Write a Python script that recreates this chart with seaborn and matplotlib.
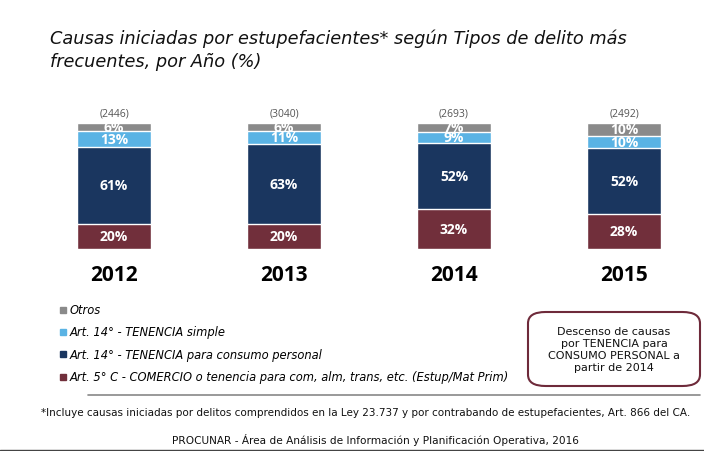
import numpy as np
import pandas as pd
import matplotlib.pyplot as plt
import seaborn as sns
from matplotlib.patches import FancyBboxPatch, Rectangle
from matplotlib.lines import Line2D

# data
years = ["2012", "2013", "2014", "2015"]
totals = ["(2446)", "(3040)", "(2693)", "(2492)"]
comercio = [20, 20, 32, 28]
consumo = [61, 63, 52, 52]
simple = [13, 11, 9, 10]
otros = [6, 6, 7, 10]

series_names = [
    "Art. 5° C - COMERCIO o tenencia para com, alm, trans, etc. (Estup/Mat Prim)",
    "Art. 14° - TENENCIA para consumo personal",
    "Art. 14° - TENENCIA simple",
    "Otros",
]
colors = ["#712f3b", "#1a365f", "#5ab3e4", "#8a8a8a"]

sns.set_style("white")
plt.rcParams['font.family'] = ['DejaVu Sans']

fig = plt.figure(figsize=(7.04, 4.52), dpi=100)
ax = fig.add_axes([12 / 704, 202 / 452, 680 / 704, 126 / 452])

df = pd.DataFrame({"year": years, "comercio": comercio, "consumo": consumo,
                   "simple": simple, "otros": otros})
cols = ["comercio", "consumo", "simple", "otros"]
cum = df[cols].cumsum(axis=1)

# stacked bars: draw cumulative heights from the top down
for col, c in reversed(list(zip(cols, colors))):
    sns.barplot(x=df["year"], y=cum[col], color=c, width=0.44,
                edgecolor="white", linewidth=1.0, ax=ax, saturation=1)

ax.set_xlim(-0.6, 3.4)
ax.set_ylim(0, 100)
ax.axis("off")

# segment labels
for i in range(len(years)):
    bottom = 0
    for col in cols:
        v = df[col][i]
        ax.text(i, bottom + v / 2, f"{v}%", ha="center", va="center",
                color="white", fontsize=10, fontweight="bold",
                family="Open Sans", clip_on=False)
        bottom += v
    ax.text(i, 108, totals[i], ha="center", va="center", color="#555555",
            fontsize=7.5, family="Open Sans", clip_on=False)
    ax.text(i, -20, years[i], ha="center", va="center", color="black",
            fontsize=15, fontweight="bold", family="Open Sans", clip_on=False)

# title
fig.text(50 / 704, 1 - 30 / 452,
         "Causas iniciadas por estupefacientes* según Tipos de delito más\nfrecuentes, por Año (%)",
         ha="left", va="top", fontsize=12.8, style="italic", color="#111111",
         linespacing=1.3)

# legend
leg_y = [311, 333, 355, 378]
for name, c, y in zip(reversed(series_names), reversed(colors), leg_y):
    fig.patches.append(Rectangle((60 / 704, 1 - (y + 3) / 452), 6 / 704, 6 / 452,
                                 transform=fig.transFigure, color=c))
    fig.text(70 / 704, 1 - y / 452, name, ha="left", va="center",
             fontsize=8.3, style="italic", color="black")

# note box
box = FancyBboxPatch((528 / 704, 1 - 387 / 452), 172 / 704, 74 / 452,
                     boxstyle="round,pad=0,rounding_size=0.025",
                     transform=fig.transFigure, facecolor="white",
                     edgecolor="#6e2a3a", linewidth=1.5)
fig.patches.append(box)
fig.text(614 / 704, 1 - 350 / 452,
         "Descenso de causas\npor TENENCIA para\nCONSUMO PERSONAL a\npartir de 2014",
         ha="center", va="center", fontsize=8, color="#111111", linespacing=1.25)

# separator lines and footnotes
fig.lines.append(Line2D([88 / 704, 700 / 704], [1 - 396 / 452, 1 - 396 / 452],
                        transform=fig.transFigure, color="#888888", linewidth=1.2))
fig.lines.append(Line2D([0, 1], [1 - 450.5 / 452, 1 - 450.5 / 452],
                        transform=fig.transFigure, color="#444444", linewidth=1.0))
fig.text(366 / 704, 1 - 413 / 452,
         "*Incluye causas iniciadas por delitos comprendidos en la Ley 23.737 y por contrabando de estupefacientes, Art. 866 del CA.",
         ha="center", va="center", fontsize=7.5, color="#111111")
fig.text(375 / 704, 1 - 440 / 452,
         "PROCUNAR - Área de Análisis de Información y Planificación Operativa, 2016",
         ha="center", va="center", fontsize=7.6, color="#111111")

fig.savefig("out.png", dpi=100)
